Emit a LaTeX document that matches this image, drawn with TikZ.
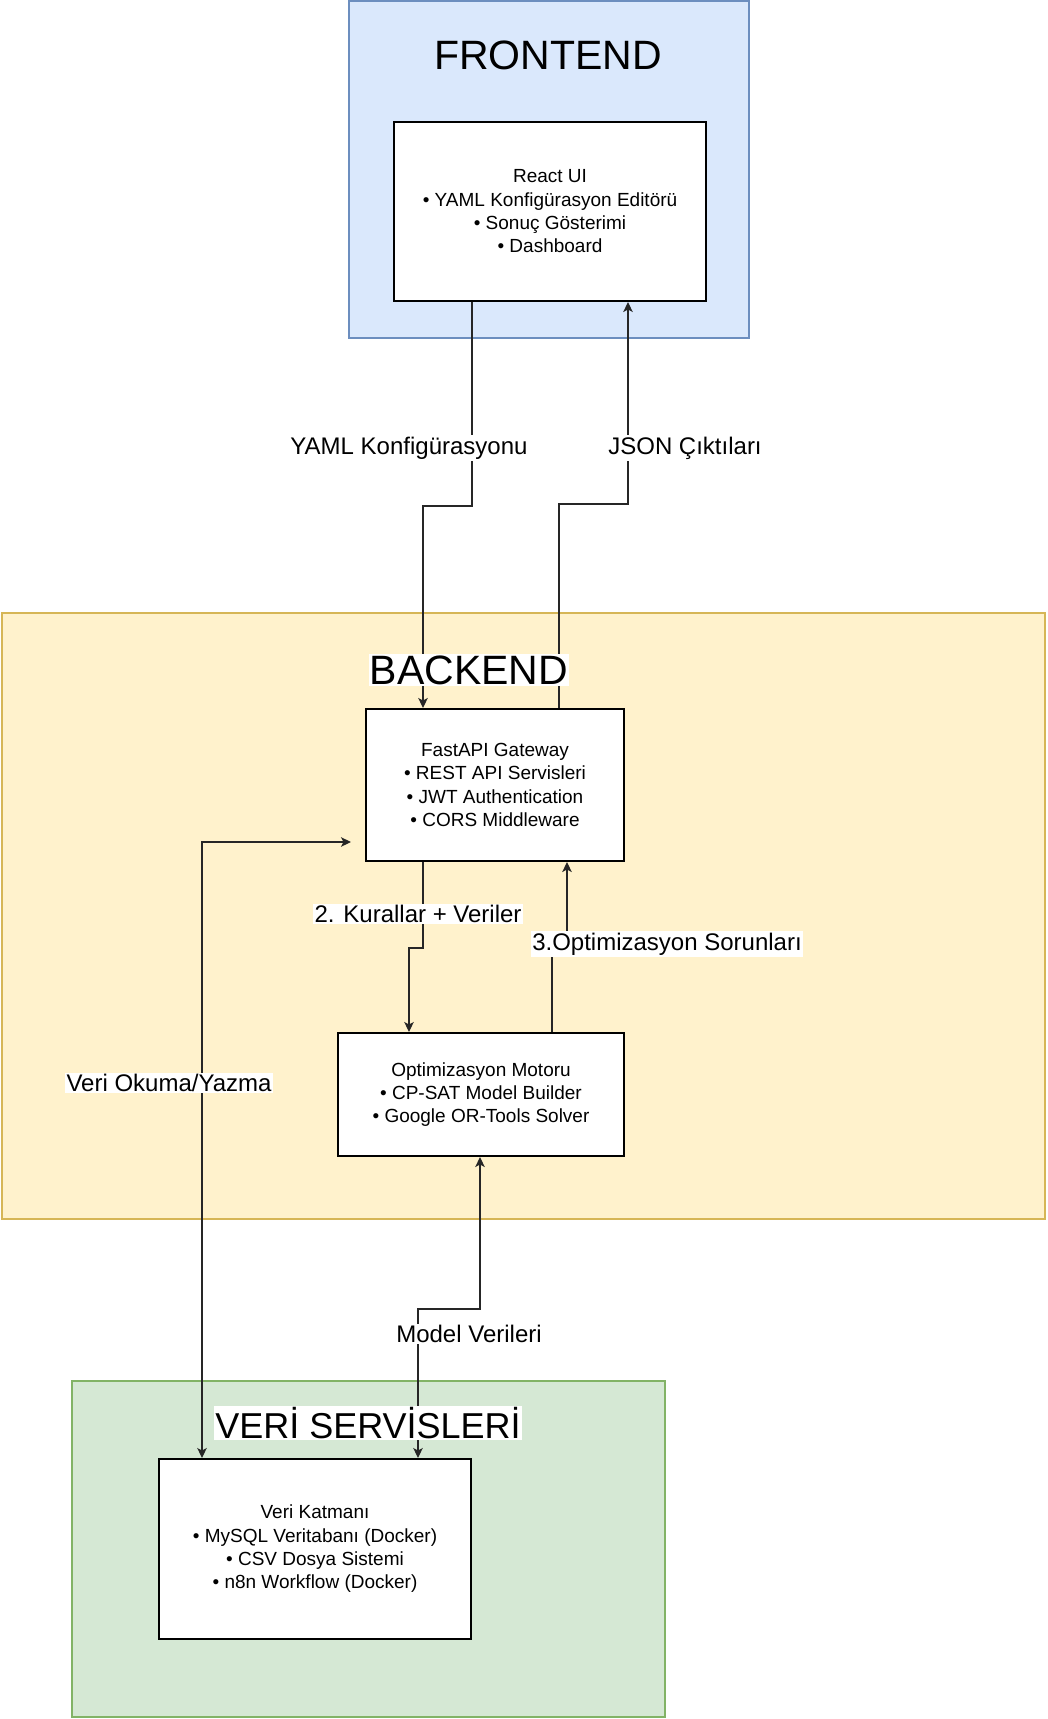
\documentclass[tikz,border=0pt]{standalone}
\usepackage{fontspec}
\setmainfont{Liberation Sans}
\usetikzlibrary{arrows.meta}
\definecolor{feline}{HTML}{6C8EBF}
\definecolor{fefill}{HTML}{DAE8FC}
\definecolor{beline}{HTML}{D6B656}
\definecolor{befill}{HTML}{FFF2CC}
\definecolor{dbline}{HTML}{82B366}
\definecolor{dbfill}{HTML}{D5E8D4}

\begin{document}
\begin{tikzpicture}[x=1pt, y=-1pt,
      layer/.style={draw, line width=1.5pt, inner sep=0pt},
      comp/.style={draw=black, fill=white, line width=2pt, align=center, inner sep=0pt,
                   font=\fontsize{19}{23.3}\selectfont},
      title/.style={font=\fontsize{41}{46}\selectfont, inner sep=1pt},
      lbl/.style={fill=white, inner sep=1.5pt, font=\fontsize{24}{28}\selectfont},
      arr/.style={-{Stealth[length=10pt, width=9.5pt, inset=2.5pt]}, line width=1.2pt, draw=black!85},
      twoway/.style={{Stealth[length=10pt, width=9.5pt, inset=2.5pt]}-{Stealth[length=10pt, width=9.5pt, inset=2.5pt]},
                     line width=1.2pt, draw=black!85}]
    \useasboundingbox (0,0) rectangle (1047,1719);
    \node[layer, draw=feline, fill=fefill, minimum width=400pt, minimum height=337pt] (frontend) at (549,169.5) {};
    \node[layer, draw=beline, fill=befill, minimum width=1043pt, minimum height=606pt] (backend) at (523.5,916) {};
    \node[layer, draw=dbline, fill=dbfill, minimum width=593pt, minimum height=336pt] (veri) at (368.5,1549) {};
    \node[title] (fronttitle) at (548,55) {FRONTEND};
    \node[comp, minimum width=312pt, minimum height=179pt] (react) at (550,211.5)
      {React UI\\• YAML Konfigürasyon Editörü\\• Sonuç Gösterimi\\• Dashboard};
    \node[comp, minimum width=258pt, minimum height=152pt] (fastapi) at (495,785)
      {FastAPI Gateway\\• REST API Servisleri\\• JWT Authentication\\• CORS Middleware};
    \node[comp, minimum width=286pt, minimum height=123pt] (motor) at (481,1094.5)
      {Optimizasyon Motoru\\• CP-SAT Model Builder\\• Google OR-Tools Solver};
    \node[comp, minimum width=312pt, minimum height=180pt] (katman) at (315,1549)
      {Veri Katmanı\\• MySQL Veritabanı (Docker)\\• CSV Dosya Sistemi\\• n8n Workflow (Docker)};
    \draw[arr] ([xshift=-78pt]react.south) -- ++(0,204) -| ([xshift=-72pt]fastapi.north);
    \draw[arr] ([xshift=64pt]fastapi.north) -- ++(0,-204) -| ([xshift=78pt]react.south);
    \draw[arr] ([xshift=-72pt]fastapi.south) -- ++(0,86) -| ([xshift=-72pt]motor.north);
    \draw[arr] ([xshift=71pt]motor.north) -- ++(0,-89) -| ([xshift=72pt]fastapi.south);
    \draw[twoway] ([xshift=-113pt]katman.north) |- ([xshift=-14pt, yshift=-57pt]fastapi.west);
    \draw[twoway] ([xshift=-1pt]motor.south) -- ++(0,152) -| ([xshift=103pt]katman.north);
    \node[title, fill=white] (backtitle) at (469,670) {BACKEND};
    \node[title, fill=white, font=\fontsize{36}{42}\selectfont] (verititle) at (368,1423) {VERİ SERVİSLERİ};
    \node[lbl] (lblyaml) at (409,448) {YAML Konfigürasyonu};
    \node[lbl] (lbljson) at (685,448) {JSON Çıktıları};
    \node[lbl] (lblkural) at (418,914) {2. Kurallar + Veriler};
    \node[lbl] (lblsorun) at (667,944) {3.Optimizasyon Sorunları};
    \node[lbl] (lbloku) at (169,1083) {Veri Okuma/Yazma};
    \node[lbl] (lblmodel) at (469,1334) {Model Verileri};
  \end{tikzpicture}
\end{document}
